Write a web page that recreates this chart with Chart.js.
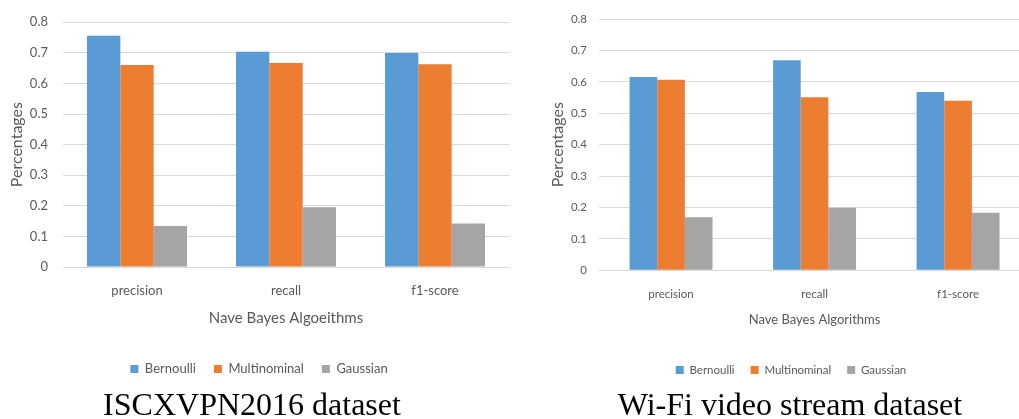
<!DOCTYPE html>
<html>
<head>
<meta charset="utf-8">
<script src="https://cdn.jsdelivr.net/npm/chart.js@4.4.1/dist/chart.umd.min.js"></script>
<style>
  html, body { margin: 0; padding: 0; background: #fff; overflow: hidden; }
  body { width: 1019px; height: 419px; position: relative; }
  .wrap { position: absolute; top: 0; }
  .caption {
    position: absolute; top: 388px;
    font-family: "Liberation Serif", "Times New Roman", serif;
    font-size: 32px; line-height: 32px; color: #000;
    white-space: nowrap; transform: translateX(-50%);
  }
</style>
</head>
<body>
<div class="wrap" style="left:0"><canvas id="chartVpn" width="518" height="419"></canvas></div>
<div class="wrap" style="left:510px"><canvas id="chartWifi" width="562" height="419"></canvas></div>
<div class="caption" style="left:252px">ISCXVPN2016 dataset</div>
<div class="caption" style="left:790px">Wi-Fi video stream dataset</div>

<script>
// ---- data ----
const categories = ['precision', 'recall', 'f1-score'];
const seriesNames = ['Bernoulli', 'Multinominal', 'Gaussian'];
const seriesColors = ['#5B9BD5', '#ED7D31', '#A5A5A5'];
const yTicks = [0, 0.1, 0.2, 0.3, 0.4, 0.5, 0.6, 0.7, 0.8];

// ISCXVPN2016 dataset
const vpnBernoulli    = [0.756, 0.704, 0.700];
const vpnMultinominal = [0.660, 0.667, 0.663];
const vpnGaussian     = [0.134, 0.195, 0.142];

// Wi-Fi video stream dataset
const wifiBernoulli    = [0.616, 0.669, 0.568];
const wifiMultinominal = [0.607, 0.551, 0.540];
const wifiGaussian     = [0.169, 0.199, 0.183];

const TEXT = '#595959';
const GRID = '#D9D9D9';
const FONT = 'Lato, "Open Sans", sans-serif';

function makeChart(id, values, xTitle, s) {
    const ctx = document.getElementById(id);
    return new Chart(ctx, {
        type: 'bar',
        data: {
            labels: categories,
            datasets: values.map((vals, i) => ({
                label: seriesNames[i],
                data: vals,
                backgroundColor: seriesColors[i],
                borderColor: seriesColors[i],
                borderWidth: 0,
                categoryPercentage: s.groupPct,
                barPercentage: 1,
                yAxisID: 'y'
            }))
        },
        options: {
            responsive: false,
            animation: false,
            devicePixelRatio: 1,
            layout: {
                padding: { left: 0, right: 0, top: s.top, bottom: s.bottom }
            },
            plugins: {
                tooltip: { enabled: false },
                legend: {
                    display: true,
                    position: 'bottom',
                    labels: {
                        color: TEXT,
                        boxWidth: 8,
                        boxHeight: 8,
                        padding: s.legendPad,
                        font: { family: FONT, size: s.legendSize }
                    }
                }
            },
            scales: {
                x: {
                    grid: { display: false },
                    border: { display: false },
                    ticks: {
                        color: TEXT,
                        padding: s.xTickPad,
                        font: { family: FONT, size: s.xTickSize }
                    },
                    title: {
                        display: true,
                        text: xTitle,
                        color: TEXT,
                        padding: { top: 0, bottom: s.xTitleBottom },
                        font: { family: FONT, size: s.xTitleSize }
                    },
                    afterFit: (scale) => { scale.height = s.xHeight; }
                },
                y: {
                    position: 'left',
                    min: 0,
                    max: 0.8,
                    afterBuildTicks: (scale) => {
                        scale.ticks = yTicks.map(v => ({ value: v }));
                    },
                    grid: { color: GRID, lineWidth: 1, drawTicks: false },
                    border: { display: false },
                    ticks: {
                        color: TEXT,
                        padding: s.yTickPad,
                        font: { family: FONT, size: s.yTickSize },
                        callback: (v) => String(Math.round(v * 10) / 10)
                    },
                    title: {
                        display: true,
                        text: 'Percentages',
                        color: TEXT,
                        padding: { top: s.yTitleTop, bottom: 0 },
                        font: { family: FONT, size: 16 }
                    },
                    afterFit: (scale) => { scale.width = s.yWidth; }
                },
                // empty spacer on the right so the legend centres like the original
                spacer: {
                    type: 'linear',
                    position: 'right',
                    grid: { display: false },
                    border: { display: false },
                    ticks: { display: false },
                    afterFit: (scale) => { scale.width = s.spacer; }
                }
            }
        }
    });
}

makeChart('chartVpn', [vpnBernoulli, vpnMultinominal, vpnGaussian], 'Nave Bayes Algoeithms', {
    groupPct: 0.671, top: 20, bottom: 33.5,
    legendPad: 18, legendSize: 13,
    xTickPad: 8, xTickSize: 13, xTitleSize: 15, xTitleBottom: 17.5, xHeight: 77.5,
    yTickPad: 14.5, yTickSize: 13, yTitleTop: 7.4, yWidth: 62.5,
    spacer: 8.5
});

makeChart('chartWifi', [wifiBernoulli, wifiMultinominal, wifiGaussian], 'Nave Bayes Algorithms', {
    groupPct: 0.578, top: 11.7, bottom: 33.25,
    legendPad: 16, legendSize: 11.5,
    xTickPad: 9, xTickSize: 11.5, xTitleSize: 13, xTitleBottom: 20.45, xHeight: 77.95,
    yTickPad: 12.3, yTickSize: 11.5, yTitleTop: 38.4, yWidth: 89.3,
    spacer: 42.2
});
</script>
</body>
</html>
